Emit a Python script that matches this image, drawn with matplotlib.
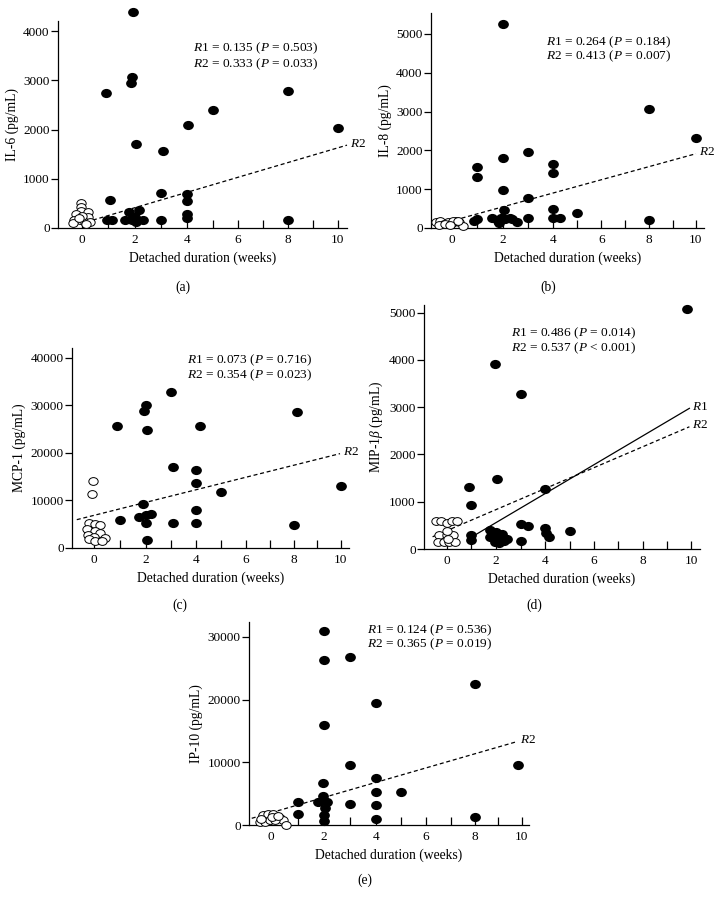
import numpy as np
import matplotlib.pyplot as plt
from matplotlib.markers import MarkerStyle
from matplotlib.transforms import Affine2D

plt.rcParams['font.family'] = ['Liberation Serif', 'DejaVu Serif']
plt.rcParams['mathtext.fontset'] = 'custom'
plt.rcParams['mathtext.rm'] = 'Liberation Serif'
plt.rcParams['mathtext.it'] = 'Liberation Serif:italic'
plt.rcParams['font.size'] = 9.5

# ---- data ----
# (a) IL-6
a_fill_x = [1.92, 1.9, 1.85, 0.9, 8, 5, 4.05, 10, 2.05, 3.07, 3, 4, 4, 1.07,
            4, 4, 8, 3, 0.95, 1.15, 1.65, 1.8, 2.15, 2.0, 2.05, 2.3, 1.9]
a_fill_y = [4390, 3070, 2950, 2740, 2790, 2400, 2090, 2030, 1700, 1570, 720, 690, 550, 560,
            290, 200, 170, 155, 165, 165, 165, 330, 365, 230, 130, 165, 165]
a_open_x = [-0.02, -0.02, -0.02, 0.25, -0.23, 0.25, -0.27, -0.07, 0.12, 0.3, -0.33, 0.0, -0.1, 0.15]
a_open_y = [500, 420, 350, 330, 285, 230, 165, 160, 125, 125, 95, 240, 200, 90]

# (b) IL-8
b_fill_x = [2, 8, 10, 3, 2, 4, 4, 1, 1, 2, 3, 4, 5, 2.07, 8, 1, 0.87, 1.57, 1.8,
            1.93, 2.1, 2.3, 2.36, 2.55, 1.87, 3, 4, 4.3]
b_fill_y = [5260, 3070, 2310, 1970, 1800, 1650, 1420, 1570, 1310, 970, 780, 500, 390, 470,
            200, 240, 180, 250, 180, 270, 220, 270, 220, 160, 130, 250, 270, 270]
b_open_x = [-0.6, -0.45, -0.3, -0.15, 0.0, 0.15, 0.3, 0.45, -0.5, -0.25, 0.05, 0.25, -0.05]
b_open_y = [150, 180, 110, 160, 120, 190, 150, 60, 70, 100, 170, 180, 80]

# (c) MCP-1
c_fill_x = [3, 2, 1.95, 0.9, 2.05, 4.15, 8.15, 3.05, 4, 4, 5, 10, 1.9, 4, 1.0,
            1.75, 2.0, 2.2, 2.0, 3.05, 4, 8, 2.05]
c_fill_y = [32800, 30100, 28900, 25600, 24800, 25600, 28600, 17000, 16400, 13700, 11700,
            13000, 9300, 7900, 5950, 6600, 6950, 7150, 5300, 5350, 5350, 4900, 1700]
c_open_x = [-0.04, -0.06, -0.19, 0.04, 0.25, -0.25, 0.04, 0.25, -0.2, 0.02, 0.44, -0.19, 0.04, 0.32]
c_open_y = [14200, 11400, 5200, 5050, 4850, 3950, 3650, 3100, 2750, 2400, 2050, 1900, 1500, 1500]

# (d) MIP-1beta
d_fill_x = [9.85, 1.97, 3, 2.05, 0.9, 1, 4, 3, 3.29, 5, 4, 4.04, 4.17, 3, 1, 1,
            1.74, 1.74, 2.0, 2.06, 2.23, 2.32, 1.94, 2.13, 2.45]
d_fill_y = [5080, 3920, 3270, 1490, 1320, 930, 1270, 530, 480, 375, 435, 330, 260, 175,
            295, 190, 400, 245, 350, 225, 315, 175, 140, 120, 210]
d_open_x = [-0.45, -0.22, 0.0, 0.2, 0.4, -0.3, 0.0, 0.25, -0.35, -0.1, 0.1, 0.35, 0.0, 0.05]
d_open_y = [600, 600, 550, 600, 600, 290, 290, 290, 140, 140, 140, 140, 390, 210]

# (e) IP-10
e_fill_x = [2, 2, 3, 4, 8, 2, 3, 9.85, 1.95, 4, 4, 5, 1, 1.75, 1.95, 2.1, 2.05,
            3, 4, 1, 2, 2, 4, 8]
e_fill_y = [31000, 26300, 26750, 19500, 22500, 15950, 9550, 9520, 6750, 7440, 5210, 5210,
            3620, 3620, 4620, 3620, 2760, 3300, 3190, 1750, 1590, 640, 960, 1220]
e_open_x = [-0.4, -0.27, -0.09, 0.1, 0.22, 0.34, 0.47, -0.21, -0.03, 0.16, 0.55, 0.04, -0.35, 0.28]
e_open_y = [500, 1600, 1700, 1700, 1300, 1100, 800, 550, 800, 800, 50, 1250, 1000, 1500]

# regression lines: (label, intercept, slope, x start, x end, style)
a_fits = [('R2', 97, 153, 0.42, 10.38, '--')]
b_fits = [('R2', 184, 173, 0.13, 10.0, '--')]
c_fits = [('R2', 6803, 1310, -0.64, 9.97, '--')]
d_fits = [('R1', -54, 305, 1.08, 9.93, '-'), ('R2', 385, 221.5, -0.57, 9.93, '--')]
e_fits = [('R2', 1886, 1166, -0.70, 9.78, '--')]

ylabels = ['IL-6 (pg/mL)', 'IL-8 (pg/mL)', 'MCP-1 (pg/mL)',
           r'MIP-1$\beta$ (pg/mL)', 'IP-10 (pg/mL)']
stats = [('0.135', '0.503', '0.333', '= 0.033'),
         ('0.264', '0.184', '0.413', '= 0.007'),
         ('0.073', '0.716', '0.354', '= 0.023'),
         ('0.486', '0.014', '0.537', '< 0.001'),
         ('0.124', '0.536', '0.365', '= 0.019')]
yticks = [[0, 1000, 2000, 3000, 4000], [0, 1000, 2000, 3000, 4000, 5000],
          [0, 10000, 20000, 30000, 40000], [0, 1000, 2000, 3000, 4000, 5000],
          [0, 10000, 20000, 30000]]
letters = ['(a)', '(b)', '(c)', '(d)', '(e)']

# ---- layout (pixels) ----
W, H = 722, 906
boxes = [(58, 21, 347, 228), (431, 13, 704, 228), (72, 348, 349, 548),
         (424, 305, 700, 549), (249, 622, 529, 825)]
ylims = [4210, 5540, 42100, 5160, 32380]
xlims = [(-0.884, 10.38), (-0.80, 10.35), (-0.82, 10.36), (-0.917, 10.37), (-0.80, 10.31)]
kvals = [0.0042, 0.0052, 0.0062, 0.0012, 0.0072]   # slight compression of the x axis
stat_pos = [(0.467, 0.87, 0.792), (0.421, 0.865, 0.80), (0.415, 0.94, 0.865),
            (0.315, 0.885, 0.824), (0.421, 0.96, 0.892)]
letter_pos = [(183, 287), (548, 287), (180, 605), (534, 605), (365, 880)]

panels = [
    (a_fill_x, a_fill_y, a_open_x, a_open_y, a_fits),
    (b_fill_x, b_fill_y, b_open_x, b_open_y, b_fits),
    (c_fill_x, c_fill_y, c_open_x, c_open_y, c_fits),
    (d_fill_x, d_fill_y, d_open_x, d_open_y, d_fits),
    (e_fill_x, e_fill_y, e_open_x, e_open_y, e_fits),
]

ell = MarkerStyle('o', transform=Affine2D().scale(1.2, 1.0))

fig = plt.figure(figsize=(W / 100, H / 100), dpi=100)

for i, (fx, fy, ox, oy, fits) in enumerate(panels):
    L, T, R, B = boxes[i]
    ax = fig.add_axes([L / W, 1 - B / H, (R - L) / W, (B - T) / H])
    k = kvals[i]
    ax.set_xscale('function', functions=(lambda x, k=k: x - k * x ** 2,
                                         lambda y, k=k: (1 - np.sqrt(np.maximum(1 - 4 * k * y, 0))) / (2 * k)))
    ax.set_xlim(*xlims[i])
    ax.set_ylim(0, ylims[i])

    ax.plot(fx, fy, linestyle='none', marker=ell, ms=5.6, color='black', clip_on=False, zorder=3)
    ax.plot(ox, oy, linestyle='none', marker=ell, ms=5.6, mfc='white', mec='black',
            mew=0.7, clip_on=False, zorder=3)

    for lab, b0, b1, x0, x1, ls in fits:
        xs = np.array([x0, x1])
        ys = b0 + b1 * xs
        if ls == '--':
            ax.plot(xs, ys, color='black', lw=0.9, linestyle=(0, (3.2, 2.2)), clip_on=False)
        else:
            ax.plot(xs, ys, color='black', lw=0.9, clip_on=False)
        ax.annotate('$R$' + lab[1], (xs[-1], ys[-1]), xytext=(2, 1), textcoords='offset points',
                    ha='left', va='center', fontsize=9.5, annotation_clip=False)

    r1, p1, r2, p2 = stats[i]
    sx, sy1, sy2 = stat_pos[i]
    ax.text(sx, sy1, '$R$1 = %s ($P$ = %s)' % (r1, p1), transform=ax.transAxes,
            ha='left', va='center', fontsize=9.6)
    ax.text(sx, sy2, '$R$2 = %s ($P$ %s)' % (r2, p2), transform=ax.transAxes,
            ha='left', va='center', fontsize=9.6)

    ax.spines['top'].set_visible(False)
    ax.spines['right'].set_visible(False)
    for s in ('left', 'bottom'):
        ax.spines[s].set_linewidth(0.9)

    ax.set_xticks([0, 2, 4, 6, 8, 10])
    ax.set_xticks([1, 3, 5, 7, 9], minor=True)
    ax.set_xticklabels(['0', '2', '4', '6', '8', '10'])
    ax.set_yticks(yticks[i])
    ax.set_yticklabels([str(v) for v in yticks[i]])
    ax.tick_params(axis='x', which='both', direction='in', length=5.5, width=0.9,
                   labelsize=9.5, pad=4)
    ax.tick_params(axis='y', which='major', direction='out', length=5, width=0.9,
                   labelsize=9.5, pad=1)
    ax.tick_params(axis='y', which='minor', left=False)

    ax.set_xlabel('Detached duration (weeks)', fontsize=9.8, labelpad=4)
    ax.set_ylabel(ylabels[i], fontsize=9.8, labelpad=3)

    lx, ly = letter_pos[i]
    fig.text(lx / W, 1 - ly / H, letters[i], ha='center', va='center', fontsize=9.8)

fig.savefig('out.png', dpi=100)
